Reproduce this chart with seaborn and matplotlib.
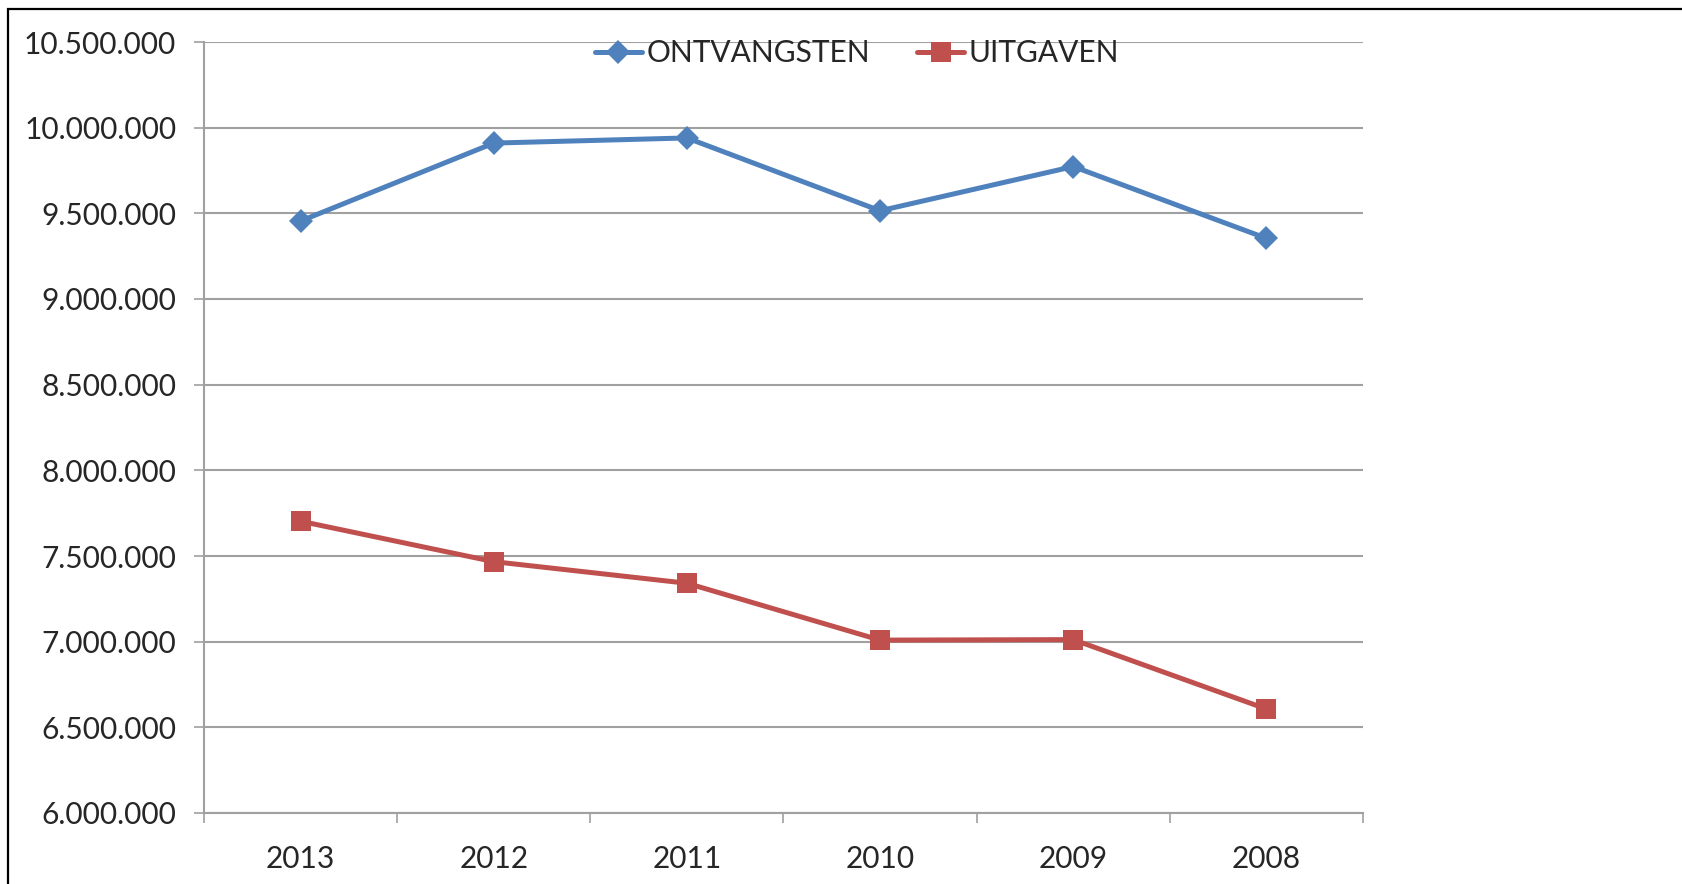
import numpy as np
import pandas as pd
import matplotlib
matplotlib.use("Agg")
import matplotlib.pyplot as plt
import matplotlib.ticker as mticker
from matplotlib.patches import Rectangle
import seaborn as sns

# --- Data ---
years = ["2013", "2012", "2011", "2010", "2009", "2008"]
ontvangsten = [9455000, 9910000, 9940000, 9515000, 9773000, 9354000]
uitgaven = [7703000, 7467000, 7341000, 7009000, 7012000, 6607000]
y_ticks = [6000000, 6500000, 7000000, 7500000, 8000000, 8500000,
           9000000, 9500000, 10000000, 10500000]

df = pd.DataFrame({"jaar": years, "ONTVANGSTEN": ontvangsten, "UITGAVEN": uitgaven})

sns.set_style("white")
plt.rcParams["font.family"] = ["Lato", "DejaVu Sans"]

fig = plt.figure(figsize=(16.83, 8.84), dpi=100)
ax = fig.add_axes([204 / 1683, 1 - 813 / 884, (1363 - 204) / 1683, (813 - 42) / 884])

blue = "#4F81BD"
red = "#C0504D"
grey = "#A0A0A0"
fs = 21.5

sns.lineplot(data=df, x="jaar", y="ONTVANGSTEN", ax=ax, color=blue, lw=3.6,
             marker="D", markersize=12, markeredgewidth=0, label="ONTVANGSTEN", sort=False)
sns.lineplot(data=df, x="jaar", y="UITGAVEN", ax=ax, color=red, lw=3.6,
             marker="s", markersize=14, markeredgewidth=0, label="UITGAVEN", sort=False)

# --- Axes styling (Excel look) ---
ax.set_xlim(-0.5, len(years) - 0.5)
ax.set_ylim(y_ticks[0], y_ticks[-1])
ax.set_yticks(y_ticks)
ax.yaxis.set_major_formatter(mticker.FuncFormatter(lambda v, p: f"{int(v):,}".replace(",", ".")))
ax.set_xlabel("")
ax.set_ylabel("")

ax.grid(axis="y", color=grey, lw=1.5)
ax.set_axisbelow(True)
for s in ["top", "right"]:
    ax.spines[s].set_visible(False)
for s in ["left", "bottom"]:
    ax.spines[s].set_color(grey)
    ax.spines[s].set_linewidth(1.5)

ax.tick_params(axis="y", direction="out", length=7, width=1.2, color=grey,
               labelsize=fs, pad=13, left=True)
ax.tick_params(axis="x", which="major", length=0, labelsize=fs, pad=23)
ax.set_xticks(np.arange(-0.5, len(years)), minor=True)
ax.tick_params(axis="x", which="minor", direction="out", length=7, width=1.2,
               color=grey, bottom=True)

ax.legend(loc="center", bbox_to_anchor=(857 / 1683, 1 - 53 / 884),
          bbox_transform=fig.transFigure, ncol=2, frameon=False,
          fontsize=fs, handlelength=1.6, handletextpad=0.15, columnspacing=1.55)

# outer chart frame
fig.patches.append(Rectangle((8 / 1683, -0.05), 1.1, 1 - 9 / 884 + 0.05,
                             transform=fig.transFigure, fill=False,
                             edgecolor="black", lw=1.6))

fig.savefig("out.png", dpi=100)
